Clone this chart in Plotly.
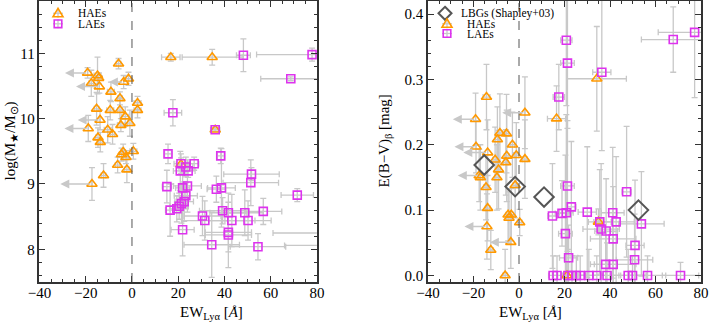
import plotly.graph_objects as go

# ---- left panel: stellar mass vs EW(Lya) ----
# HAEs with measured EW
hae_m_x = [-5.8, -14.9, -14.4, -17.6, -1.5, -9.1, -5.2, 2.4, 2.4, -15.3, -9.4, -5.2, -2.9,
           -0.9, -4.8, -10.5, -8.4, -14.7, -13.7, -4.5, -3.8, -2.6, 0.6, -6.2, -2.2, -12.3,
           16.8, 34.7, 36.0, 21.2]
hae_m_y = [10.84, 10.66, 10.62, 10.54, 10.61, 10.41, 10.31, 10.24, 10.13, 10.15, 10.13, 10.13, 10.03,
           9.93, 9.90, 9.83, 9.76, 9.71, 9.64, 9.45, 9.49, 9.41, 9.50, 9.29, 9.22, 9.13,
           10.94, 10.94, 9.83, 9.30]
hae_m_xerr = [1.0, 1.5, 1.5, 1.0, 1.5, 1.5, 1.0, 1.5, 1.5, 1.0, 1.5, 1.0, 1.5,
              1.0, 1.5, 1.5, 1.0, 1.0, 1.0, 1.0, 1.0, 1.0, 1.5, 1.0, 1.0, 1.0,
              4.0, 13.0, 2.0, 2.0]
hae_m_yerr = [0.08, 0.28, 0.08, 0.20, 0.10, 0.15, 0.10, 0.10, 0.12, 0.25, 0.15, 0.20, 0.15,
              0.20, 0.10, 0.20, 0.15, 0.15, 0.15, 0.10, 0.12, 0.10, 0.12, 0.12, 0.20, 0.18,
              0.06, 0.12, 0.03, 0.10]
# HAEs with EW upper limits (arrow end)
hae_m_lim_x = [-19.2, -14.1, -3.6, -13.8, -18.9, -17.3]
hae_m_lim_y = [10.70, 10.49, 10.56, 9.98, 9.85, 9.00]
hae_m_lim_yerr = [0.08, 0.10, 0.10, 0.15, 0.20, 0.25]
hae_m_lim_to = [-29.0, -24.2, -10.0, -23.5, -29.2, -31.0]

lae_m_x = [48.2, 77.9, 68.7, 17.7, 36.0, 15.6, 38.4, 21.2, 23.3, 24.3, 26.9, 20.9, 51.7, 51.4,
           15.1, 21.9, 24.0, 36.5, 38.7, 71.5, 23.3, 22.6, 21.4, 20.4, 19.4, 16.5, 39.2, 41.7,
           48.8, 56.8, 30.5, 31.5, 43.2, 50.2, 21.9, 41.7, 41.7, 34.5, 54.5, 92.0, 95.0]
lae_m_y = [10.97, 10.98, 10.61, 10.09, 9.83, 9.46, 9.43, 9.31, 9.26, 9.20, 9.31, 9.20, 9.15, 9.02,
           8.96, 8.94, 8.97, 8.92, 8.94, 8.83, 8.82, 8.73, 8.70, 8.66, 8.62, 8.60, 8.59, 8.56,
           8.56, 8.58, 8.51, 8.44, 8.44, 8.44, 8.30, 8.26, 8.22, 8.07, 8.04, 8.25, 8.06]
lae_m_xerr = [3, 24, 13, 3.8, 1.5, 1.5, 1.5, 3, 3, 3, 2, 3, 12, 12,
              2, 3, 6, 4, 6, 7, 5, 4, 3, 4, 3, 2, 10, 8,
              8, 8, 8, 10, 10, 10, 5, 10, 10, 12, 12, 31, 29]
lae_m_yerr = [0.25, 0.10, 0.03, 0.20, 0.03, 0.15, 0.12, 0.15, 0.15, 0.10, 0.10, 0.30, 0.10, 0.35,
              0.25, 0.30, 0.40, 0.20, 0.60, 0.10, 0.20, 0.30, 0.30, 0.20, 0.20, 0.40, 0.20, 0.30,
              0.35, 0.20, 0.30, 0.30, 0.40, 0.30, 0.40, 0.30, 0.50, 0.50, 0.20, 0.02, 0.02]

# ---- right panel: E(B-V) vs EW(Lya) ----
hae_e_x = [-14.3, -8.4, -5.5, -9.5, -2.9, -5.4, -1.2, 2.6, -10.5, -5.8, -9.0, -17.0, -9.7,
           -1.7, -14.5, -13.8, -4.8, -3.4, -4.4, 0.3, -12.4, -6.1, 16.5, 34.2, 34.9, 21.1]
hae_e_y = [0.273, 0.218, 0.217, 0.208, 0.200, 0.183, 0.184, 0.178, 0.177, 0.173, 0.162, 0.150, 0.150,
           0.138, 0.135, 0.103, 0.093, 0.093, 0.088, 0.081, 0.039, 0.000, 0.240, 0.301, 0.082, 0.000]
hae_e_xerr = [1.5, 1.0, 1.0, 1.0, 1.0, 1.0, 1.0, 1.0, 1.0, 1.0, 1.0, 1.0, 1.0,
              1.0, 1.0, 1.0, 1.0, 1.0, 1.0, 1.0, 1.0, 1.0, 4.0, 13.0, 2.0, 2.0]
hae_e_yerr = [0.05, 0.06, 0.06, 0.05, 0.05, 0.07, 0.05, 0.06, 0.05, 0.05, 0.06, 0.05, 0.05,
              0.05, 0.05, 0.05, 0.04, 0.04, 0.04, 0.02, 0.03, 0.04, 0.05, 0.08, 0.02, 0.02]
hae_e_lim_x = [2.6, -19.1, -18.9, -13.8, -17.5, -14.1, -3.6]
hae_e_lim_y = [0.249, 0.239, 0.197, 0.188, 0.153, 0.075, 0.051]
hae_e_lim_yerr = [0.055, 0.04, 0.04, 0.05, 0.04, 0.05, 0.04]
hae_e_lim_to = [-7.4, -29.1, -28.4, -24.5, -26.9, -24.0, -12.8]

lae_e_x = [20.8, 77.2, 67.8, 21.3, 36.4, 17.5, 21.3, 47.3, 23.0, 18.9, 20.8, 14.7, 30.0, 41.2,
           35.5, 42.7, 53.8, 36.1, 38.3, 20.4, 41.4, 51.0, 21.8, 50.8, 38.1, 41.4,
           15.0, 16.7, 21.5, 23.3, 25.2, 26.9, 30.7, 34.2, 38.7, 48.0, 49.9, 56.5, 71.0]
lae_e_y = [0.360, 0.372, 0.361, 0.325, 0.311, 0.273, 0.137, 0.128, 0.105, 0.095, 0.096, 0.091, 0.097, 0.096,
           0.082, 0.082, 0.079, 0.071, 0.068, 0.064, 0.056, 0.046, 0.027, 0.024, 0.017, 0.017,
           0, 0, 0, 0, 0, 0, 0, 0, 0, 0, 0, 0, 0]
lae_e_xerr = [2.5, 16, 14, 3, 4, 2.5, 3, 2, 2, 3, 3, 2, 4, 5,
              5, 8, 10, 8, 5, 3, 10, 4, 4, 8, 5, 10,
              2, 2, 3, 3, 4, 3, 5, 4, 6, 8, 6, 8, 8]
lae_e_yerr = [0.10, 0.10, 0.05, 0.10, 0.12, 0.05, 0.10, 0.10, 0.10, 0.05, 0.15, 0.08, 0.10, 0.10,
              0.08, 0.10, 0.08, 0.10, 0.08, 0.12, 0.08, 0.10, 0.05, 0.07, 0.05, 0.05,
              0.03, 0.03, 0.04, 0.03, 0.03, 0.03, 0.04, 0.03, 0.05, 0.04, 0.03, 0.03, 0.02]

lbg_x = [-15.3, -1.7, 11.0, 52.5]
lbg_y = [0.169, 0.136, 0.120, 0.100]

ORANGE = "#ff9900"
MAGENTA = "#dd33ee"
LBGC = "#555555"
ERRC = "#c8c8c8"
FONT = "Liberation Serif"
W, H = 709, 324
M_T, M_B = 1, 42
PLOT_H = H - M_T - M_B


def err_trace(x, y, xe, ye, xa, ya):
    return go.Scatter(
        x=x, y=y, mode="markers", xaxis=xa, yaxis=ya,
        marker=dict(size=1, opacity=0),
        error_x=dict(type="data", array=xe, color=ERRC, thickness=1.3, width=3),
        error_y=dict(type="data", array=ye, color=ERRC, thickness=1.3, width=3),
        showlegend=False, hoverinfo="skip",
    )


def mark_trace(x, y, sym, color, size, name, xa, ya, lw=1.6):
    return go.Scatter(
        x=x, y=y, mode="markers", xaxis=xa, yaxis=ya, name=name,
        marker=dict(symbol=sym, size=size, color=color, line=dict(color=color, width=lw)),
        showlegend=False,
    )


fig = go.Figure()

# left panel
fig.add_trace(err_trace(hae_m_x, hae_m_y, hae_m_xerr, hae_m_yerr, "x", "y"))
fig.add_trace(err_trace(hae_m_lim_x, hae_m_lim_y, [0] * len(hae_m_lim_x), hae_m_lim_yerr, "x", "y"))
fig.add_trace(err_trace(lae_m_x, lae_m_y, lae_m_xerr, lae_m_yerr, "x", "y"))
fig.add_trace(mark_trace(hae_m_x + hae_m_lim_x, hae_m_y + hae_m_lim_y, "triangle-up-open", ORANGE, 9,
                         "HAEs", "x", "y"))
fig.add_trace(mark_trace(lae_m_x, lae_m_y, "square-open", MAGENTA, 8, "LAEs", "x", "y"))

# right panel
fig.add_trace(err_trace(hae_e_x, hae_e_y, hae_e_xerr, hae_e_yerr, "x2", "y2"))
fig.add_trace(err_trace(hae_e_lim_x, hae_e_lim_y, [0] * len(hae_e_lim_x), hae_e_lim_yerr, "x2", "y2"))
fig.add_trace(err_trace(lae_e_x, lae_e_y, lae_e_xerr, lae_e_yerr, "x2", "y2"))
fig.add_trace(mark_trace(hae_e_x + hae_e_lim_x, hae_e_y + hae_e_lim_y, "triangle-up-open", ORANGE, 9,
                         "HAEs", "x2", "y2"))
fig.add_trace(mark_trace(lae_e_x, lae_e_y, "square-open", MAGENTA, 8, "LAEs", "x2", "y2"))
fig.add_trace(mark_trace(lbg_x, lbg_y, "diamond-open", LBGC, 15, "LBGs (Shapley+03)", "x2", "y2", lw=2))

# upper-limit arrows
for xs, ys, xt, xa, ya in [(hae_m_lim_x, hae_m_lim_y, hae_m_lim_to, "x", "y"),
                           (hae_e_lim_x, hae_e_lim_y, hae_e_lim_to, "x2", "y2")]:
    for x0, y0, x1 in zip(xs, ys, xt):
        fig.add_annotation(x=x1, y=y0, ax=x0, ay=y0, xref=xa, yref=ya, axref=xa, ayref=ya,
                           text="", showarrow=True, arrowhead=2, arrowsize=1.2,
                           arrowwidth=1.5, arrowcolor=ERRC)

# dashed zero lines
for xa, ya in [("x", "y"), ("x2", "y2")]:
    fig.add_shape(type="line", x0=0, x1=0, y0=0, y1=1, xref=xa, yref=ya + " domain",
                  line=dict(color="#555555", width=1, dash="dash"))


# hand-drawn legends (matplotlib-style compact spacing)
def px(xp):
    return xp / W


def py(yp):
    return (H - M_B - yp) / PLOT_H


SYM_PATH = {
    "tri": "M0,5 L-5,-3.5 L5,-3.5 Z",
    "sq": "M-3.8,-3.8 L3.8,-3.8 L3.8,3.8 L-3.8,3.8 Z",
    "dia": "M0,6.5 L6.5,0 L0,-6.5 L-6.5,0 Z",
}


def legend_item(xm, ym, sym, color, label, xt, errbar=True, lw=1.6):
    if errbar:
        for path in ["M-5,0 L5,0", "M0,-4.5 L0,4.5"]:
            fig.add_shape(type="path", path=path, xref="paper", yref="paper",
                          xsizemode="pixel", ysizemode="pixel", xanchor=px(xm), yanchor=py(ym),
                          line=dict(color=ERRC, width=1.3))
    fig.add_shape(type="path", path=SYM_PATH[sym], xref="paper", yref="paper",
                  xsizemode="pixel", ysizemode="pixel", xanchor=px(xm), yanchor=py(ym),
                  line=dict(color=color, width=lw), fillcolor="rgba(0,0,0,0)")
    fig.add_annotation(text=label, x=px(xt), y=py(ym), xref="paper", yref="paper",
                       xanchor="left", yanchor="middle", showarrow=False,
                       font=dict(family=FONT, size=11.5, color="black"))


legend_item(58, 13.3, "tri", ORANGE, "HAEs", 76)
legend_item(58, 23.8, "sq", MAGENTA, "LAEs", 76)
legend_item(445, 13.3, "dia", LBGC, "LBGs (Shapley+03)", 459, errbar=False, lw=2)
legend_item(447, 23.8, "tri", ORANGE, "HAEs", 465)
legend_item(447, 33.5, "sq", MAGENTA, "LAEs", 465)

axis_common = dict(
    showline=True, linecolor="#333333", linewidth=1.5, mirror="allticks",
    ticks="inside", ticklen=6, tickwidth=1, tickcolor="#333333",
    showgrid=False, zeroline=False, automargin=False,
    tickfont=dict(family=FONT, size=15, color="black"),
)

fig.update_layout(
    width=W, height=H,
    paper_bgcolor="white", plot_bgcolor="white",
    margin=dict(l=0, r=0, t=M_T, b=M_B),
    font=dict(family=FONT, size=15, color="black"),
    showlegend=False,
    xaxis=dict(domain=[0.0557, 0.447], range=[-40, 80], dtick=20, ticklabelstandoff=-4,
               minor=dict(ticks="inside", ticklen=3, dtick=5, tickcolor="#333333"), **axis_common),
    yaxis=dict(domain=[0, 1], range=[7.5, 11.8], dtick=1,
               minor=dict(ticks="inside", ticklen=3, dtick=0.2, tickcolor="#333333"), **axis_common),
    xaxis2=dict(domain=[0.6037, 0.9887], range=[-40, 80], dtick=20, anchor="y2", ticklabelstandoff=-4,
                minor=dict(ticks="inside", ticklen=3, dtick=5, tickcolor="#333333"), **axis_common),
    yaxis2=dict(domain=[0, 1], range=[-0.01, 0.42], dtick=0.1, tickformat=".1f", anchor="x2",
                minor=dict(ticks="inside", ticklen=3, dtick=0.02, tickcolor="#333333"), **axis_common),
)

# axis titles
fig.add_annotation(text="EW<sub>Lyα</sub> [<i>Å</i>]", x=0.251, y=py(313), xref="paper", yref="paper",
                   showarrow=False, yanchor="middle", font=dict(size=15))
fig.add_annotation(text="EW<sub>Lyα</sub> [<i>Å</i>]", x=0.796, y=py(313), xref="paper", yref="paper",
                   showarrow=False, yanchor="middle", font=dict(size=15))
fig.add_annotation(text="log(M<sub>★</sub>/M<sub>⊙</sub>)", x=px(10), y=0.5, xref="paper", yref="paper",
                   showarrow=False, textangle=-90, xanchor="center", font=dict(size=15))
fig.add_annotation(text="E(B−V)<sub>β</sub> [mag]", x=px(384), y=0.5, xref="paper", yref="paper",
                   showarrow=False, textangle=-90, xanchor="center", font=dict(size=15))

fig.write_html("out.html", post_script="document.body.style.margin='0';",
               config={"displayModeBar": False})
